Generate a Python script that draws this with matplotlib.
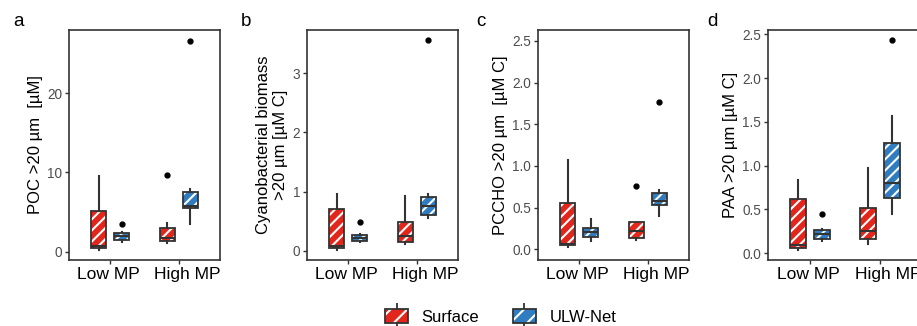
import matplotlib.pyplot as plt
import matplotlib.transforms as mtransforms
from matplotlib.patches import Patch
from matplotlib.lines import Line2D

plt.rcParams['font.family'] = ['Liberation Sans', 'DejaVu Sans']
plt.rcParams['hatch.linewidth'] = 1.5

GROUPS = ['Low MP', 'High MP']
SITES = ['Surface', 'ULW-Net']
SITE_COLORS = ['#E3261B', '#2F7CC0']
EDGE = '#333333'

# five-number summaries (whislo, q1, median, q3, whishi)
# box order: Low-Surface, Low-ULW, High-Surface, High-ULW
poc_boxes = [(0.2, 0.4, 0.7, 5.15, 9.5), (1.2, 1.5, 2.0, 2.35, 2.45),
             (1.1, 1.4, 1.7, 3.0, 3.6), (3.55, 5.5, 5.8, 7.5, 7.9)]
poc_fliers = [[], [3.5], [9.7], [26.6]]

cyano_boxes = [(0.02, 0.05, 0.08, 0.70, 0.95), (0.15, 0.17, 0.22, 0.27, 0.28),
               (0.12, 0.14, 0.25, 0.48, 0.93), (0.55, 0.60, 0.75, 0.91, 0.95)]
cyano_fliers = [[], [0.48], [], [3.56]]

pccho_boxes = [(0.03, 0.05, 0.06, 0.55, 1.07), (0.10, 0.15, 0.21, 0.26, 0.36),
               (0.11, 0.14, 0.22, 0.33, 0.33), (0.40, 0.53, 0.58, 0.68, 0.71)]
pccho_fliers = [[], [], [0.76], [1.77]]

paa_boxes = [(0.04, 0.06, 0.10, 0.62, 0.84), (0.14, 0.16, 0.22, 0.26, 0.28),
             (0.11, 0.16, 0.25, 0.52, 0.97), (0.45, 0.63, 0.80, 1.26, 1.57)]
paa_fliers = [[], [0.45], [], [2.44]]

panels = [
    ('a', 'POC >20 µm  [µM]', poc_boxes, poc_fliers, [0, 10, 20], (-1.05, 27.95), ['0', '10', '20']),
    ('b', 'Cyanobacterial biomass\n>20 µm [µM C]', cyano_boxes, cyano_fliers, [0, 1, 2, 3], (-0.157, 3.73), ['0', '1', '2', '3']),
    ('c', 'PCCHO >20 µm  [µM C]', pccho_boxes, pccho_fliers, [0, 0.5, 1, 1.5, 2, 2.5], (-0.128, 2.63),
     ['0.0', '0.5', '1.0', '1.5', '2.0', '2.5']),
    ('d', 'PAA >20 µm [µM C]', paa_boxes, paa_fliers, [0, 0.5, 1, 1.5, 2, 2.5], (-0.077, 2.55),
     ['0.0', '0.5', '1.0', '1.5', '2.0', '2.5']),
]

W, H = 917, 326
fig = plt.figure(figsize=(W / 100, H / 100), dpi=100)

lefts = [69, 307, 538, 768]
letter_x = [13, 241, 476, 707]
ax_w, ax_top, ax_bot = 151, 30, 260
dodge = 0.17
box_w = 0.22
label_shift = [-2, 8]   # small horizontal nudge of the x labels, in pixels

for i, ((letter, ylabel, boxes, fliers, yticks, ylim, yticklabels), lx, lt) in enumerate(zip(panels, lefts, letter_x)):
    w = ax_w + (3 if i == 3 else 0)
    ax = fig.add_axes([lx / W, 1 - ax_bot / H, w / W, (ax_bot - ax_top) / H])
    stats, positions, colors = [], [], []
    for gi in range(len(GROUPS)):
        for si in range(len(SITES)):
            k = gi * 2 + si
            lo, q1, med, q3, hi = boxes[k]
            stats.append(dict(whislo=lo, q1=q1, med=med, q3=q3, whishi=hi, fliers=fliers[k]))
            positions.append(gi + 1 + (-dodge if si == 0 else dodge))
            colors.append(SITE_COLORS[si])

    # whiskers, fliers and filled hatched boxes
    bp = ax.bxp(stats, positions=positions, widths=box_w, patch_artist=True,
                showcaps=False,
                whiskerprops=dict(color=EDGE, linewidth=1.5),
                medianprops=dict(color='none'),
                flierprops=dict(marker='o', markerfacecolor='black', markeredgecolor='black',
                                markersize=3.5))
    for patch, c in zip(bp['boxes'], colors):
        patch.set_facecolor(c)
        patch.set_edgecolor('white')
        patch.set_hatch('///')
        patch.set_linewidth(0)
    # median lines and outline on top
    ax.bxp(stats, positions=positions, widths=box_w, patch_artist=True,
           showcaps=False, showfliers=False,
           boxprops=dict(facecolor='none', edgecolor=EDGE, linewidth=1.3),
           whiskerprops=dict(color='none'),
           medianprops=dict(color=EDGE, linewidth=1.5))

    ax.set_xlim(0.4, 2.6)
    ax.set_ylim(*ylim)
    ax.set_xticks([1, 2])
    ax.set_xticklabels(GROUPS, fontsize=12.6, color='black')
    ax.set_yticks(yticks)
    ax.set_yticklabels(yticklabels, fontsize=9.8, color='#4D4D4D')
    ax.tick_params(length=3, width=1, color=EDGE, pad=2)
    for lab, dx in zip(ax.get_xticklabels(), label_shift):
        lab.set_transform(lab.get_transform() + mtransforms.ScaledTranslation(dx / 100, 0, fig.dpi_scale_trans))
    ax.set_ylabel(ylabel, fontsize=12, labelpad=3)
    for s in ax.spines.values():
        s.set_color(EDGE)
        s.set_linewidth(1.2)
    fig.text(lt / W, 1 - 21 / H, letter, fontsize=13.5, va='center', ha='left')

handles = []
for c in SITE_COLORS:
    whisk = Line2D([0], [0], color=EDGE, marker='|', markersize=17, linestyle='none', markeredgewidth=1.3)
    box = Patch(facecolor=c, edgecolor='white', hatch='//', linewidth=0)
    outline = Patch(facecolor='none', edgecolor=EDGE, linewidth=1.3)
    handles.append((whisk, box, outline))

fig.legend(handles, SITES, loc='center', bbox_to_anchor=(0.546, 0.028), ncol=2, frameon=False,
           fontsize=12, handlelength=1.4, handleheight=0.9, columnspacing=2.0, handletextpad=0.8)

fig.savefig('out.png', dpi=100)
